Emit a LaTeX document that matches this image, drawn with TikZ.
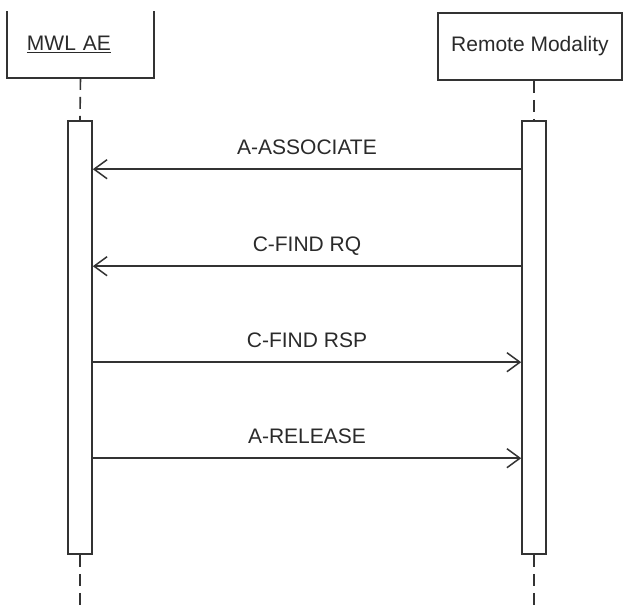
\documentclass[tikz,border=0pt]{standalone}
\usepackage{fontspec}
\setmainfont{Liberation Sans}
\usetikzlibrary{arrows.meta,positioning}
\definecolor{lineclr}{HTML}{333333}
\definecolor{textclr}{HTML}{2A2A2A}
\tikzset{line/.style={draw=lineclr, line width=1.5pt, -{Straight Barb[length=13pt,width=19pt]}}}

\begin{document}
\begin{tikzpicture}[x=1pt, y=-1pt, font=\fontsize{21pt}{25pt}\selectfont, auto]
\tikzstyle{actor} = [rectangle, draw=lineclr, line width=1.6pt, text=textclr]
\tikzstyle{bar} = [rectangle, draw=lineclr, line width=1.6pt, fill=white, inner sep=0pt, minimum width=24pt, minimum height=433pt]
\tikzstyle{lifeline} = [draw=lineclr, line width=1.6pt, dash pattern=on 12pt off 7pt]
\tikzstyle{msg} = [text=textclr, inner sep=0pt, text depth=0pt]

\useasboundingbox (0,0) rectangle (624,608);

\node [actor, draw=none, minimum width=145pt, minimum height=65pt, inner xsep=19pt, text width=107pt, align=left](mwl) at (80.5,44.5) {\underline{MWL AE}};
\node [actor, minimum width=184pt, minimum height=67pt](remote) at (530,46.5) {Remote Modality};
\draw [lineclr, line width=1.6pt] (mwl.north west) -- (mwl.south west) -- (mwl.south east) -- (mwl.north east);

\node [bar](mwlbar) at (80,337.5) {};
\node [bar](remotebar) at (534,337.5) {};
\coordinate (mwlend) at (80,608);
\coordinate (remoteend) at (534,608);

\draw [lifeline] (mwl.south) -- (mwlbar.north);
\draw [lifeline] (mwlbar.south) -- (mwlend);
\draw [lifeline] (remote.south -| remotebar.north) -- (remotebar.north);
\draw [lifeline] (remotebar.south) -- (remoteend);

\path [line] ([yshift=-49pt]remotebar.north west) -- node[msg, above=14pt, swap] {A-ASSOCIATE} ([yshift=-49pt]mwlbar.north east);
\path [line] ([yshift=-146pt]remotebar.north west) -- node[msg, above=14pt, swap] {C-FIND RQ} ([yshift=-146pt]mwlbar.north east);
\path [line] ([yshift=-242pt]mwlbar.north east) -- node[msg, above=14pt] {C-FIND RSP} ([yshift=-242pt]remotebar.north west);
\path [line] ([yshift=-338pt]mwlbar.north east) -- node[msg, above=14pt] {A-RELEASE} ([yshift=-338pt]remotebar.north west);

\end{tikzpicture}
\end{document}
